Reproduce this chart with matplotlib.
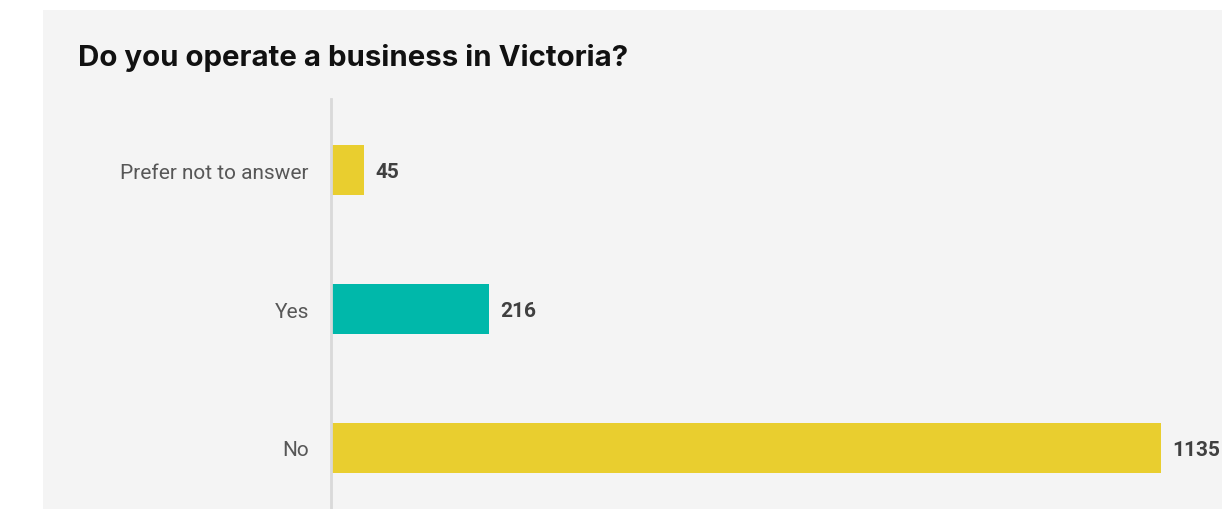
import matplotlib.pyplot as plt
from matplotlib.patches import Rectangle

# Survey responses
categories = ["No", "Yes", "Prefer not to answer"]
counts = [1135, 216, 45]
bar_colors = ["#e9ce2f", "#00b8aa", "#e9ce2f"]
title = "Do you operate a business in Victoria?"


def plot_chart(output_path="out.png"):
    fig = plt.figure(figsize=(12.22, 5.10), dpi=100)
    fig.patch.set_facecolor("white")

    # light grey card behind the chart
    W, H = 1222, 510
    card = Rectangle((43 / W, 0), 1 - 43 / W, 1 - 11 / H, transform=fig.transFigure,
                     facecolor="#f4f4f4", edgecolor="none", zorder=-10)
    fig.patches.append(card)

    ax = fig.add_axes([331 / W, 0, 1 - 331 / W, (H - 100) / H])
    ax.set_zorder(5)
    ax.set_facecolor("none")

    ypos = list(range(len(categories)))
    ax.barh(ypos, counts, height=0.36, color=bar_colors, zorder=2)
    ax.set_xlim(0, 1218.4)
    ax.set_ylim(-0.439, 2.511)

    for y, v in zip(ypos, counts):
        ax.text(v + 16, y - 0.01, str(v), va="center", ha="left", fontsize=15,
                fontweight="bold", color="#404040", family="Roboto")

    ax.set_yticks(ypos)
    ax.set_yticklabels(categories, fontsize=15, color="#575757", family="Roboto")
    ax.tick_params(axis="y", length=0, pad=16)
    ax.set_xticks([])
    for side in ["top", "right", "bottom"]:
        ax.spines[side].set_visible(False)
    ax.spines["left"].set_color("#d9d9d9")
    ax.spines["left"].set_linewidth(2)

    fig.text(78 / W, 1 - 58 / H, title, fontsize=21.2, fontweight="bold",
             color="#111111", family="Inter", va="center", ha="left", zorder=6)

    fig.savefig(output_path, dpi=100)
    plt.close(fig)


if __name__ == "__main__":
    plot_chart()
